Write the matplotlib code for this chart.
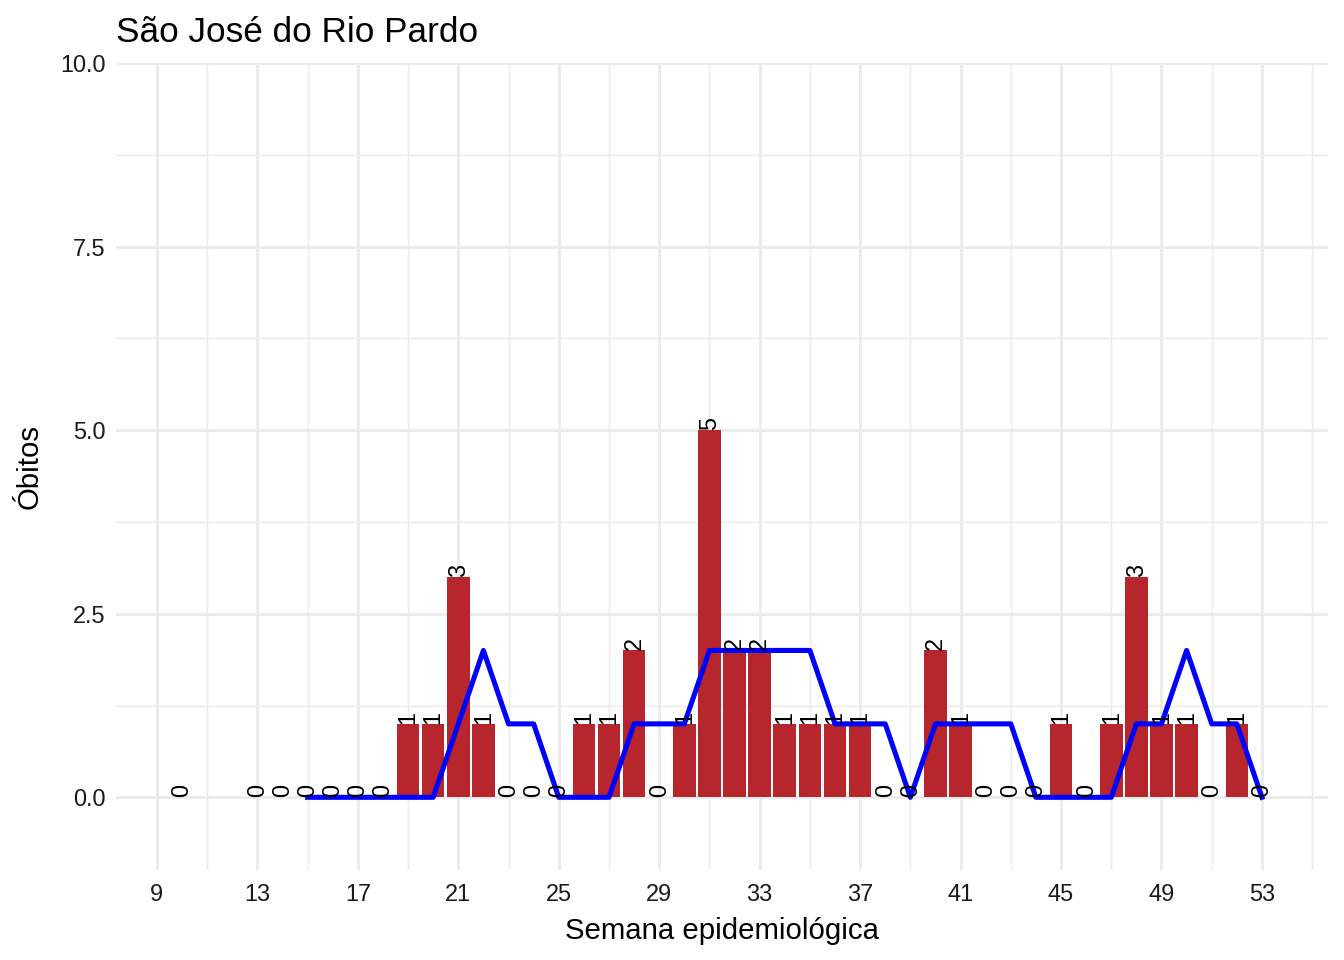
import matplotlib.pyplot as plt
import numpy as np
from matplotlib.ticker import MultipleLocator

plt.rcParams['font.family'] = ['Liberation Sans', 'DejaVu Sans']

# semanas com registro e óbitos por semana
semanas = [10, 13, 14, 15, 16, 17, 18, 19, 20, 21, 22, 23, 24, 25, 26, 27, 28,
           29, 30, 31, 32, 33, 34, 35, 36, 37, 38, 39, 40, 41, 42, 43, 44, 45,
           46, 47, 48, 49, 50, 51, 52, 53]
obitos = [0, 0, 0, 0, 0, 0, 0, 1, 1, 3, 1, 0, 0, 0, 1, 1, 2,
          0, 1, 5, 2, 2, 1, 1, 1, 1, 0, 0, 2, 1, 0, 0, 0, 1,
          0, 1, 3, 1, 1, 0, 1, 0]

# linha de tendência (a partir da semana 15)
semanas_linha = list(range(15, 54))
tendencia = [0, 0, 0, 0, 0, 0, 1, 2, 1, 1, 0, 0, 0, 1, 1, 1, 2, 2, 2, 2,
             2, 1, 1, 1, 0, 1, 1, 1, 1, 0, 0, 0, 0, 1, 1, 2, 1, 1, 0]

fig = plt.figure(figsize=(7, 5), dpi=192)
ax = fig.add_axes([116 / 1344, 1 - 870 / 960, (1328 - 116) / 1344, (870 - 63) / 960])

ax.bar(semanas, obitos, width=0.9, color='#B7252D', zorder=2)
ax.plot(semanas_linha, tendencia, color='#0000FF', linewidth=1.9, zorder=3)

for s, v in zip(semanas, obitos):
    ax.text(s, v, str(v), rotation=90, ha='center', va='bottom',
            fontsize=8.8, color='black', zorder=4)

ax.set_xlim(7.37, 55.63)
ax.set_ylim(-0.99, 10)
ax.xaxis.set_major_locator(MultipleLocator(4, offset=1))
ax.xaxis.set_minor_locator(MultipleLocator(4, offset=3))
ax.set_yticks([0, 2.5, 5, 7.5, 10])
ax.set_yticklabels(['0.0', '2.5', '5.0', '7.5', '10.0'])
ax.yaxis.set_minor_locator(MultipleLocator(2.5, offset=1.25))

ax.grid(which='major', color='#EBEBEB', linewidth=1.1, zorder=0)
ax.grid(which='minor', color='#EBEBEB', linewidth=0.55, zorder=0)
ax.set_axisbelow(True)
for sp in ax.spines.values():
    sp.set_visible(False)
ax.tick_params(which='both', length=0, labelsize=8.8, pad=4)
ax.tick_params(axis='x', pad=5)
for lab in ax.get_xticklabels() + ax.get_yticklabels():
    lab.set_color('#1A1A1A')

ax.set_xlabel('Semana epidemiológica', fontsize=11, labelpad=4)
ax.set_ylabel('Óbitos', fontsize=11, labelpad=6)
ax.set_title('São José do Rio Pardo', fontsize=13.2, loc='left', pad=8)

fig.savefig('out.png', dpi=192)
